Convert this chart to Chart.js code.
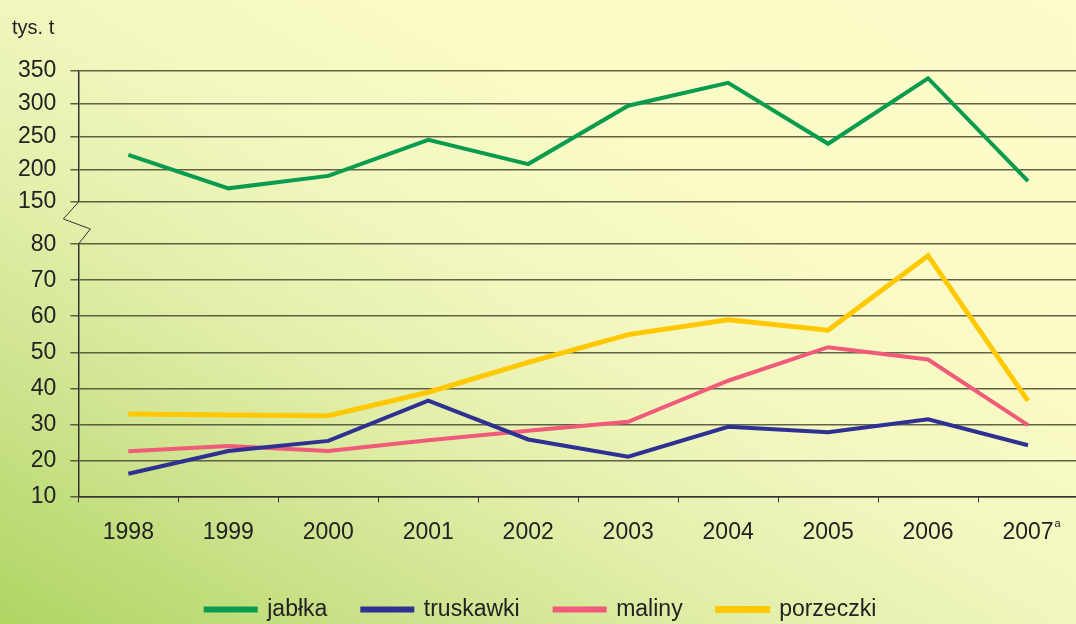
<!DOCTYPE html>
<html>
<head>
<meta charset="utf-8">
<script src="https://cdn.jsdelivr.net/npm/chart.js@4/dist/chart.umd.min.js"></script>
<style>
  html, body { margin: 0; padding: 0; overflow: hidden; }
  body {
    width: 1076px; height: 624px;
    background: linear-gradient(to top right, #b0d562 0%, #cde38e 20%, #e3efab 36%, #f3f7bf 52%, #fbfbc7 72%, #fcfcca 100%);
  }
  #wrap { position: relative; width: 1078px; height: 631px; }
</style>
</head>
<body>
<div id="wrap"><canvas id="myChart"></canvas></div>
<script>
var years = ["1998", "1999", "2000", "2001", "2002", "2003", "2004", "2005", "2006", "2007"];
var jablka = [222, 171, 190, 245, 208, 297, 332, 239, 339, 182];
var truskawki = [16.3, 22.6, 25.4, 36.6, 25.8, 21.0, 29.3, 27.8, 31.4, 24.2];
var maliny = [22.5, 24.0, 22.6, 25.6, 28.2, 30.7, 42.1, 51.4, 48.0, 29.8];
var porzeczki = [32.9, 32.6, 32.4, 38.9, 47.2, 54.9, 59.0, 56.1, 76.8, 36.5];
var topTicks = [150, 350, 50];   // min, max, step of upper part
var bottomTicks = [10, 80, 10];  // min, max, step of lower part

var gridColor = "rgba(60,60,40,0.8)";
var textColor = "#222";
var fontSize = 23;
Chart.defaults.font.family = "'Liberation Sans', Arial, sans-serif";

// axis break, unit label and the footnote mark on 2007
const extras = {
  id: "extras",
  afterDraw(chart) {
    const ctx = chart.ctx;
    const top = chart.scales.yTop, bot = chart.scales.yBot, x = chart.scales.x;
    const x0 = chart.chartArea.left;
    const yA = top.getPixelForValue(topTicks[0]);
    const yB = bot.getPixelForValue(bottomTicks[1]);
    const gap = yB - yA;
    ctx.save();
    ctx.strokeStyle = "#333";
    ctx.lineWidth = 1;
    ctx.beginPath();
    ctx.moveTo(x0, yA);
    ctx.lineTo(x0 - 15, yA + gap * 0.4);
    ctx.lineTo(x0 + 12, yA + gap * 0.64);
    ctx.lineTo(x0, yB);
    ctx.stroke();

    ctx.fillStyle = textColor;
    ctx.font = "20px 'Liberation Sans', Arial, sans-serif";
    ctx.textBaseline = "middle";
    ctx.textAlign = "left";
    ctx.fillText("tys. t", 12, 28);

    // superscript "a" after 2007
    ctx.font = fontSize + "px 'Liberation Sans', Arial, sans-serif";
    const w = ctx.measureText(years[years.length - 1]).width;
    const cx = x.getPixelForValue(years.length - 1);
    ctx.font = "11px 'Liberation Sans', Arial, sans-serif";
    ctx.fillText("a", cx + w / 2 + 1, x.top + 28);
    ctx.restore();
  }
};

function line(label, data, color, axis, width) {
  return {
    label: label,
    data: data,
    borderColor: color,
    backgroundColor: color,
    borderWidth: width,
    pointRadius: 0,
    tension: 0,
    yAxisID: axis
  };
}

new Chart("myChart", {
  type: "line",
  data: {
    labels: years,
    datasets: [
      line("jabłka", jablka, "#0a9c4e", "yTop", 4),
      line("truskawki", truskawki, "#2e3192", "yBot", 4),
      line("maliny", maliny, "#ef5b78", "yBot", 4),
      line("porzeczki", porzeczki, "#ffc800", "yBot", 5)
    ]
  },
  options: {
    responsive: true,
    maintainAspectRatio: false,
    animation: false,
    layout: { padding: { left: 4, right: 0, top: 71, bottom: 0 } },
    plugins: {
      tooltip: { enabled: false },
      legend: {
        position: "bottom",
        labels: {
          boxWidth: 50,
          boxHeight: 2,
          padding: 35,
          color: textColor,
          font: { size: fontSize }
        }
      }
    },
    scales: {
      x: {
        offset: true,
        grid: { offset: true, drawOnChartArea: false, drawTicks: true, tickLength: 6, color: "#333" },
        border: { color: "#333", width: 1.5 },
        ticks: { color: textColor, font: { size: fontSize }, padding: 16.5, maxRotation: 0 }
      },
      yTop: {
        type: "linear",
        position: "left",
        stack: "broken",
        stackWeight: 131,
        weight: 3,
        min: topTicks[0], max: topTicks[1],
        grid: { color: gridColor, lineWidth: 1.5, tickLength: 8 },
        border: { color: "#333", width: 1.5 },
        ticks: { stepSize: topTicks[2], autoSkip: false, color: textColor, font: { size: fontSize }, padding: 14 }
      },
      spacer: {
        type: "linear",
        position: "left",
        stack: "broken",
        stackWeight: 42,
        weight: 2,
        display: false
      },
      yBot: {
        type: "linear",
        position: "left",
        stack: "broken",
        stackWeight: 252,
        weight: 1,
        min: bottomTicks[0], max: bottomTicks[1],
        grid: { color: gridColor, lineWidth: 1.5, tickLength: 8 },
        border: { color: "#333", width: 1.5 },
        ticks: { stepSize: bottomTicks[2], autoSkip: false, color: textColor, font: { size: fontSize }, padding: 14 }
      }
    }
  },
  plugins: [extras]
});
</script>
</body>
</html>
